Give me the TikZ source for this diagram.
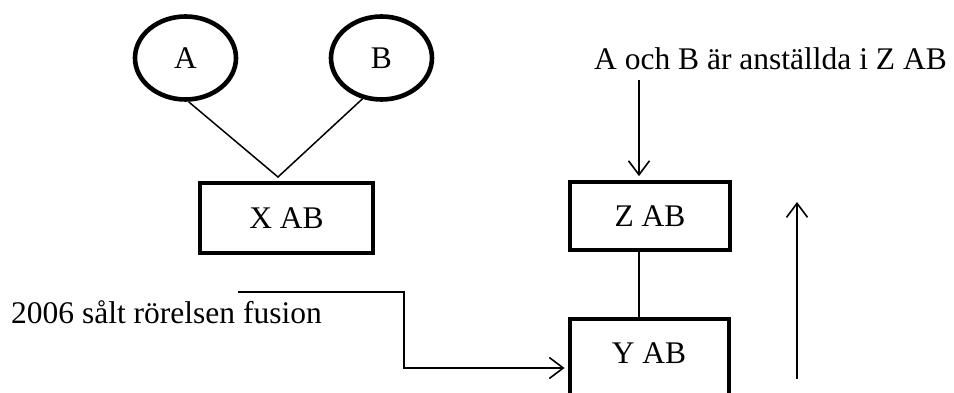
\documentclass[tikz,border=0pt]{standalone}
\usepackage{fontspec}
\setmainfont{Liberation Serif}
\usetikzlibrary{shapes.geometric,arrows.meta}
\begin{document}
\begin{tikzpicture}[x=1pt,y=-1pt,
  every node/.style={font=\fontsize{31.5}{36}\selectfont, inner sep=0pt},
  person/.style={draw, ellipse, line width=4.6pt, minimum width=101pt, minimum height=83pt},
  company/.style={draw, rectangle, line width=4.8pt},
  link/.style={line width=1.5pt},
  flow/.style={line width=1.8pt, -{Straight Barb[length=14pt,width=21pt,line width=1.6pt]}}
]
\useasboundingbox (0,0) rectangle (954,393);
\clip (0,0) rectangle (954,393);

% owners
\node[person] (A) at (185.5,58) {A};
\node[person] (B) at (381.5,58) {B};

% companies
\node[company, minimum width=173pt, minimum height=70pt] (X) at (286.5,218) {X AB};
\node[company, minimum width=160pt, minimum height=68pt] (Z) at (650,216) {Z AB};
\node[company, minimum width=159pt, minimum height=98pt] (Y) at (649.5,368) {};
\node (Ytext) at (649,353) {Y AB};

% captions
\node[anchor=base west] (cap1) at (594,70) {A och B är anställda i Z AB};
\node[anchor=base west] (cap2) at (11,323) {2006 sålt rörelsen fusion};

% ownership of X AB
\coordinate (m) at (278,177);
\draw[link] (A.-86) -- (m) -- (B.-115);

% employment arrow into Z AB and link Z AB -- Y AB
\coordinate (zin) at (639,80);
\draw[flow, shorten >=3.5pt] (zin) -- (zin |- Z.north);
\draw[line width=1.8pt] (zin |- Z.south) -- (zin |- Y.north);

% sale / merger path into Y AB
\coordinate (fs) at (238,292);
\coordinate (fc) at (404,292);
\draw[flow, shorten >=3pt] (fs) -- (fc) |- (Y.west);

% upward arrow
\coordinate (ub) at (797,379);
\coordinate (ut) at (797,202);
\draw[flow] (ub) -- (ut);
\end{tikzpicture}
\end{document}
